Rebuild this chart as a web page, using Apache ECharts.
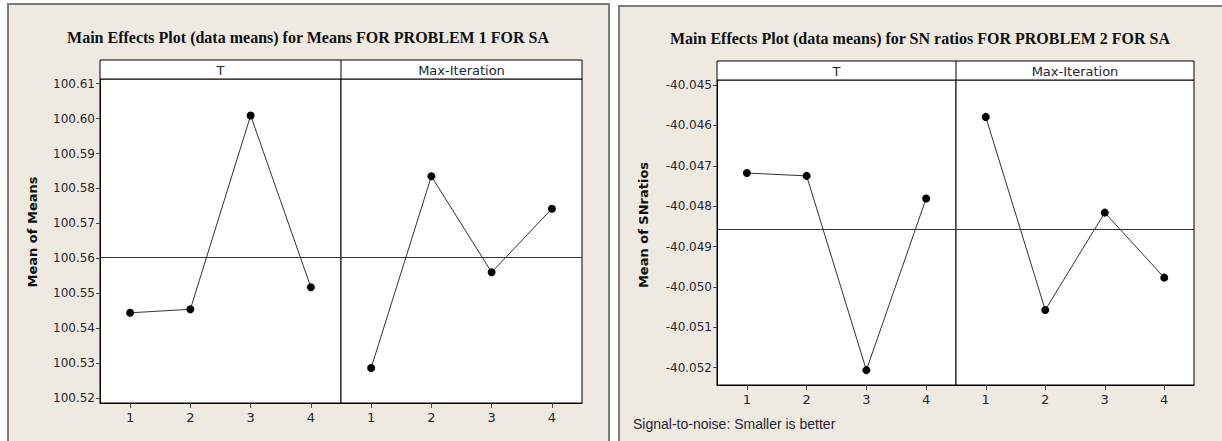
<!DOCTYPE html>
<html>
<head>
<meta charset="utf-8">
<script src="https://cdn.jsdelivr.net/npm/echarts@6/dist/echarts.min.js"></script>
<style>
html,body{margin:0;padding:0;background:#fff;}
#c{width:1222px;height:441px;}
</style>
</head>
<body>
<div id="c"></div>
<script>
// ---- data ----
const levels = ['1', '2', '3', '4'];
const factorNames = ['T', 'Max-Iteration'];

const meansT = [100.5444, 100.5454, 100.6009, 100.5517];
const meansMaxIter = [100.5286, 100.5835, 100.5560, 100.5742];
const meansGrand = 100.5604;
const meansTicks = [100.52, 100.53, 100.54, 100.55, 100.56, 100.57, 100.58, 100.59, 100.60, 100.61];

const snT = [-40.04718, -40.04725, -40.05206, -40.04781];
const snMaxIter = [-40.04579, -40.05057, -40.04816, -40.04977];
const snGrand = -40.04856;
const snTicks = [-40.052, -40.051, -40.050, -40.049, -40.048, -40.047, -40.046, -40.045];

const title1 = 'Main Effects Plot (data means) for Means FOR PROBLEM 1 FOR SA';
const title2 = 'Main Effects Plot (data means) for SN ratios FOR PROBLEM 2 FOR SA';
const yName1 = 'Mean of Means';
const yName2 = 'Mean of SNratios';
const footnote = 'Signal-to-noise: Smaller is better';

// ---- layout ----
const SANS = 'DejaVu Sans';
const TXT = '#262630';
const grids = [
  {left: 100, top: 79, width: 241, height: 324},
  {left: 341, top: 79, width: 241, height: 324},
  {left: 717, top: 80, width: 239, height: 305},
  {left: 956, top: 80, width: 238, height: 305}
];
const yRanges = [
  {min: 100.51857, max: 100.61135, ticks: meansTicks, dec: 2},
  {min: -40.052428, max: -40.044876, ticks: snTicks, dec: 3}
];

function xAxisFor(i) {
  return {
    type: 'category', gridIndex: i, data: levels, boundaryGap: true,
    axisLine: {show: true, lineStyle: {color: '#000', width: 1}},
    axisTick: {show: true, alignWithLabel: true, length: 5, lineStyle: {color: '#444'}},
    axisLabel: {show: true, margin: 8, fontFamily: SANS, fontSize: 13, color: TXT},
    splitLine: {show: false}
  };
}
function yAxisFor(i) {
  const r = yRanges[i < 2 ? 0 : 1];
  const showLab = (i % 2 === 0);
  return {
    type: 'value', gridIndex: i, min: r.min, max: r.max,
    axisLine: {show: showLab, lineStyle: {color: '#000', width: 1}},
    axisTick: {show: showLab, length: 4, customValues: r.ticks, lineStyle: {color: '#444'}},
    axisLabel: {show: showLab, customValues: r.ticks, margin: 5, fontFamily: SANS, fontSize: 12, color: TXT,
      formatter: v => v.toFixed(r.dec)},
    splitLine: {show: false}
  };
}
function seriesFor(i, data, grand) {
  return {
    type: 'line', xAxisIndex: i, yAxisIndex: i, data: data,
    symbol: 'circle', symbolSize: 8,
    itemStyle: {color: '#000'},
    lineStyle: {color: '#333', width: 1},
    animation: false, silent: true,
    markLine: {
      silent: true, symbol: 'none', label: {show: false}, precision: 8,
      lineStyle: {color: '#333', width: 1, type: 'solid'},
      data: [{yAxis: grand}]
    }
  };
}

function panelGraphics(x, y, w, h) {
  return {type: 'rect', z: -10, shape: {x: x, y: y, width: w, height: h},
    style: {fill: '#EEEAE1', stroke: '#7c7c7c', lineWidth: 2}};
}
function strip(gA, gB, top) {
  const out = [];
  const h = gA.top - top;
  out.push({type: 'rect', z: 5, shape: {x: gA.left, y: top, width: gA.width + gB.width, height: h},
    style: {fill: '#fff', stroke: '#000', lineWidth: 1}});
  out.push({type: 'line', z: 6, shape: {x1: gB.left, y1: top, x2: gB.left, y2: gA.top},
    style: {stroke: '#000', lineWidth: 1}});
  out.push({type: 'text', z: 7, x: gA.left + gA.width / 2, y: top + h / 2 + 1,
    style: {text: factorNames[0], font: '13px "' + SANS + '"', fill: TXT, align: 'center', verticalAlign: 'middle'}});
  out.push({type: 'text', z: 7, x: gB.left + gB.width / 2, y: top + h / 2 + 1,
    style: {text: factorNames[1], font: '13px "' + SANS + '"', fill: TXT, align: 'center', verticalAlign: 'middle'}});
  return out;
}

const graphics = [
  panelGraphics(8, 4, 601, 460),
  panelGraphics(619, 6, 620, 460),
  {type: 'text', x: 308, y: 37, style: {text: title1, font: 'bold 16px "Liberation Serif"', fill: '#111', align: 'center', verticalAlign: 'middle'}},
  {type: 'text', x: 920, y: 38, style: {text: title2, font: 'bold 16px "Liberation Serif"', fill: '#111', align: 'center', verticalAlign: 'middle'}},
  {type: 'text', x: 32, y: 232, rotation: Math.PI / 2, style: {text: yName1, font: 'bold 13px "' + SANS + '"', fill: '#111', align: 'center', verticalAlign: 'middle'}},
  {type: 'text', x: 643, y: 225, rotation: Math.PI / 2, style: {text: yName2, font: 'bold 13px "' + SANS + '"', fill: '#111', align: 'center', verticalAlign: 'middle'}},
  {type: 'text', x: 633, y: 424, style: {text: footnote, font: '14px "Liberation Sans"', fill: TXT, align: 'left', verticalAlign: 'middle'}}
].concat(strip(grids[0], grids[1], 60), strip(grids[2], grids[3], 61));

const chart = echarts.init(document.getElementById('c'), null, {renderer: 'svg'});
chart.setOption({
  animation: false,
  backgroundColor: '#fff',
  grid: grids.map(g => Object.assign({show: true, backgroundColor: '#fff', borderColor: '#000', borderWidth: 1, containLabel: false}, g)),
  xAxis: [0, 1, 2, 3].map(xAxisFor),
  yAxis: [0, 1, 2, 3].map(yAxisFor),
  series: [
    seriesFor(0, meansT, meansGrand),
    seriesFor(1, meansMaxIter, meansGrand),
    seriesFor(2, snT, snGrand),
    seriesFor(3, snMaxIter, snGrand)
  ],
  graphic: graphics
});
</script>
</body>
</html>
